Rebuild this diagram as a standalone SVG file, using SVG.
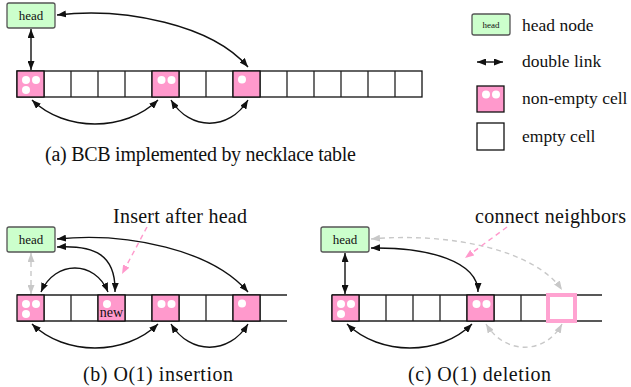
<svg xmlns="http://www.w3.org/2000/svg" width="631" height="387" viewBox="0 0 631 387">
  <style>
    text { font-family: "Liberation Serif", "DejaVu Serif", "Noto Serif", serif; fill: #111; }
    .cap { font-size: 20px; }
    .leg { font-size: 17.5px; }
    .hd { font-size: 13px; text-anchor: middle; }
    .headbox { fill: #ccffcc; stroke: #555; stroke-width: 1.3; }
    .cell { fill: #fff; stroke: #111; stroke-width: 1.3; }
    .full { fill: #ff99cc; stroke: #111; stroke-width: 1.3; }
    .gone { fill: #fff; stroke: #ffa3d1; stroke-width: 4; }
    .rail { stroke: #222; stroke-width: 1.3; fill: none; }
    .dot { fill: #fff; }
    .link { fill: none; stroke: #111; stroke-width: 1.4; marker-start: url(#ah); marker-end: url(#ah); }
    .ghost { fill: none; stroke: #c8c8c8; stroke-width: 1.4; stroke-dasharray: 5 4; marker-start: url(#ahg); marker-end: url(#ahg); }
    .hint { fill: none; stroke: #ff99cc; stroke-width: 1.4; stroke-dasharray: 5 4; marker-end: url(#ahp); }
  </style>
  <defs>
    <marker id="ah" markerUnits="userSpaceOnUse" markerWidth="9" markerHeight="7" refX="9" refY="3.5" orient="auto-start-reverse">
      <path d="M0,0 L9,3.5 L0,7 z" fill="#111"/>
    </marker>
    <marker id="ahg" markerUnits="userSpaceOnUse" markerWidth="9" markerHeight="7" refX="9" refY="3.5" orient="auto-start-reverse">
      <path d="M0,0 L9,3.5 L0,7 z" fill="#c8c8c8"/>
    </marker>
    <marker id="ahp" markerUnits="userSpaceOnUse" markerWidth="9" markerHeight="7" refX="9" refY="3.5" orient="auto">
      <path d="M0,0 L9,3.5 L0,7 z" fill="#ff99cc"/>
    </marker>
  </defs>

  <!-- (a) necklace table -->
  <g id="head-a">
    <rect class="headbox" x="7" y="3" width="48" height="25" rx="2"/>
    <text class="hd" x="31" y="20">head</text>
  </g>
  <g id="table-a">
    <rect class="cell" x="17" y="71" width="405" height="26"/>
    <path class="rail" d="M44,71V97M71,71V97M98,71V97M125,71V97M152,71V97M179,71V97M206,71V97M233,71V97M260,71V97M287,71V97M314,71V97M341,71V97M368,71V97M395,71V97"/>
    <rect class="full" x="17" y="71" width="27" height="26"/>
    <circle class="dot" cx="26" cy="80" r="4"/><circle class="dot" cx="36" cy="80" r="4"/><circle class="dot" cx="26" cy="90" r="4"/>
    <rect class="full" x="152" y="71" width="27" height="26"/>
    <circle class="dot" cx="161.5" cy="80" r="4"/><circle class="dot" cx="171.5" cy="80" r="4"/>
    <rect class="full" x="233" y="71" width="27" height="26"/>
    <circle class="dot" cx="242" cy="79.5" r="4"/>
  </g>
  <g id="links-a">
    <path class="link" d="M31,29 V70"/>
    <path class="link" d="M57,15 C125,7 212,25 248,67"/>
    <path class="link" d="M32,100 C65,132 125,132 158,100"/>
    <path class="link" d="M171,100 C190,131 229,131 248,100"/>
  </g>
  <text class="cap" x="45" y="161" textLength="311" lengthAdjust="spacing">(a) BCB implemented by necklace table</text>

  <!-- legend -->
  <g id="legend">
    <rect class="headbox" x="472" y="14" width="38" height="21" rx="2"/>
    <text x="491" y="28" font-size="9" text-anchor="middle">head</text>
    <text class="leg" x="522" y="30.5">head node</text>
    <path class="link" d="M477,62 H503"/>
    <text class="leg" x="522" y="67">double link</text>
    <rect class="full" x="477" y="86" width="27" height="26"/>
    <circle class="dot" cx="486" cy="94.5" r="4"/><circle class="dot" cx="496" cy="94.5" r="4"/>
    <text class="leg" x="522" y="104">non-empty cell</text>
    <rect class="cell" x="477" y="123" width="27" height="27"/>
    <text class="leg" x="522" y="141.5">empty cell</text>
  </g>

  <!-- (b) insertion -->
  <g id="head-b">
    <rect class="headbox" x="7" y="227" width="48" height="25" rx="2"/>
    <text class="hd" x="31" y="244">head</text>
  </g>
  <g id="table-b">
    <path class="rail" d="M17,295H287M17,321H287"/>
    <path class="rail" d="M44,295V321M71,295V321M98,295V321M125,295V321M152,295V321M179,295V321M206,295V321M233,295V321M260,295V321"/>
    <rect class="full" x="17" y="295" width="27" height="26"/>
    <circle class="dot" cx="26" cy="304" r="4"/><circle class="dot" cx="36" cy="304" r="4"/><circle class="dot" cx="26" cy="314" r="4"/>
    <rect class="full" x="98" y="295" width="27" height="26"/>
    <circle class="dot" cx="107" cy="304" r="4"/>
    <text x="111.5" y="317" font-size="14" text-anchor="middle">new</text>
    <rect class="full" x="152" y="295" width="27" height="26"/>
    <circle class="dot" cx="161.5" cy="304" r="4"/><circle class="dot" cx="171.5" cy="304" r="4"/>
    <rect class="full" x="233" y="295" width="27" height="26"/>
    <circle class="dot" cx="242" cy="303.5" r="4"/>
  </g>
  <g id="links-b">
    <path class="ghost" d="M31,253 V294"/>
    <path class="link" d="M57,239 C128,232 212,250 248,292"/>
    <path class="link" d="M57,247 C95,245 116,255 115,292"/>
    <path class="link" d="M41,292 C55,260 95,260 108,292"/>
    <path class="link" d="M32,324 C65,356 125,356 158,324"/>
    <path class="link" d="M171,324 C190,355 229,355 248,324"/>
    <path class="hint" d="M147,227 L122,274"/>
  </g>
  <text class="cap" x="113" y="223" textLength="134" lengthAdjust="spacing">Insert after head</text>
  <text class="cap" x="83" y="381" textLength="150" lengthAdjust="spacing">(b) O(1) insertion</text>

  <!-- (c) deletion -->
  <g id="head-c">
    <rect class="headbox" x="321" y="227" width="48" height="25" rx="2"/>
    <text class="hd" x="345" y="244">head</text>
  </g>
  <g id="table-c">
    <path class="rail" d="M332,295H602M332,321H602"/>
    <path class="rail" d="M332,295V321M359,295V321M386,295V321M413,295V321M440,295V321M467,295V321M494,295V321M521,295V321"/>
    <rect class="full" x="332" y="295" width="27" height="26"/>
    <circle class="dot" cx="341" cy="304" r="4"/><circle class="dot" cx="351" cy="304" r="4"/><circle class="dot" cx="341" cy="314" r="4"/>
    <rect class="full" x="467" y="295" width="27" height="26"/>
    <circle class="dot" cx="476.5" cy="304" r="4"/><circle class="dot" cx="486.5" cy="304" r="4"/>
    <rect class="gone" x="548" y="295" width="27" height="26"/>
  </g>
  <g id="links-c">
    <path class="link" d="M345,253 V294"/>
    <path class="ghost" d="M371,239 C450,232 535,250 562,290"/>
    <path class="link" d="M371,248 C430,247 478,262 478,292"/>
    <path class="link" d="M347,324 C380,356 440,356 472,324"/>
    <path class="ghost" d="M486,324 C505,355 545,355 562,324"/>
    <path class="hint" d="M507,227 L465,258"/>
  </g>
  <text class="cap" x="475" y="223" textLength="151" lengthAdjust="spacing">connect neighbors</text>
  <text class="cap" x="408" y="381" textLength="143" lengthAdjust="spacing">(c) O(1) deletion</text>
</svg>
